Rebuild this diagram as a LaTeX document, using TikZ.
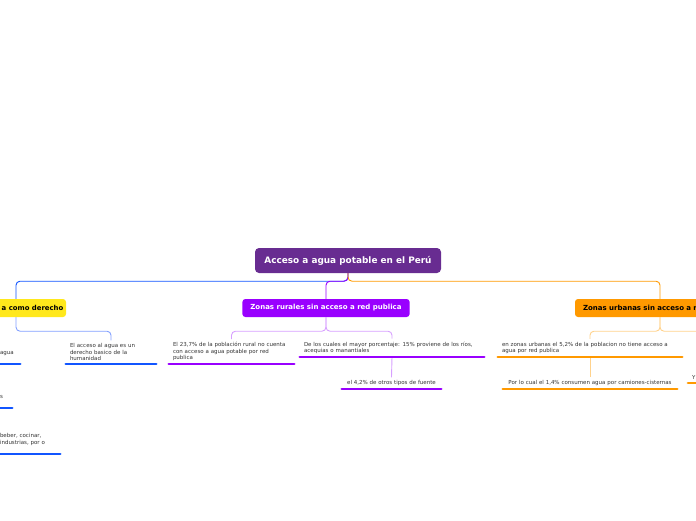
\documentclass[tikz,border=0pt]{standalone}
\usepackage{fontspec}
\setmainfont{DejaVu Sans}
\definecolor{rootc}{RGB}{104,44,145}
\definecolor{yel}{RGB}{255,232,28}
\definecolor{pur}{RGB}{153,0,255}
\definecolor{ora}{RGB}{255,153,0}
\definecolor{blu}{RGB}{17,85,255}
\definecolor{lblu}{RGB}{130,160,255}
\definecolor{lpur}{RGB}{215,160,255}
\definecolor{lora}{RGB}{255,210,140}
\definecolor{txt}{RGB}{51,51,51}
\tikzset{
  rootbox/.style={fill=rootc, text=white, font=\bfseries\fontsize{8.9}{10}\selectfont, rounded corners=4pt, minimum width=186pt, minimum height=25pt, inner sep=0pt},
  branchbox/.style={rounded corners=3pt, minimum height=18pt, inner xsep=8pt, inner ysep=0pt, font=\bfseries\fontsize{7}{8}\selectfont},
  leaf/.style={font=\fontsize{5.5}{6.5}\selectfont, text=txt, align=left, inner xsep=4pt, inner ysep=3pt, anchor=south},
  conn/.style={rounded corners=4pt, line width=0.9pt},
  subconn/.style={rounded corners=4pt, line width=0.9pt},
  uline/.style={line width=2.8pt, line cap=round}
}
\begin{document}
\begin{tikzpicture}[x=1pt,y=-1pt]
\useasboundingbox (0,0) rectangle (696,520);
\clip (0,0) rectangle (696,520);

\node[branchbox, fill=yel, minimum width=100pt] (agua) at (16,308) {};
\node[anchor=west, inner sep=0pt, text=black, font=\bfseries\fontsize{6.9}{8}\selectfont] (agualbl) at (1.5,308) {a como derecho};
\node[branchbox, fill=pur, text=white, minimum width=164pt] (rural) at (326,308) {Zonas rurales sin acceso a red publica};
\node[branchbox, fill=ora, text=black, text width=154pt, align=left] (urb) at (660,308) {Zonas urbanas sin acceso a r};

\node[rootbox] (root) at (348,260.5) {Acceso a agua potable en el Perú};

% blue leaves
\node[leaf, text width=82pt] (b2) at (111,364) {El acceso al agua es un\\derecho basico de la\\humanidad};
\node[leaf, text width=16pt] (b1) at (8,364) {agua\\\mbox{}};
\node[leaf, text width=8pt] (b3) at (4,408) {s\\\mbox{}};
\node[leaf, text width=56pt] (b4) at (28,454) {beber, cocinar,\\industrias, por o\\\mbox{}};

% rural leaves
\node[leaf, text width=117pt] (r1) at (231.5,364) {El 23,7\% de la población rural no cuenta\\con acceso a agua potable por red\\publica};
\node[leaf, text width=176pt] (r2) at (392,357) {De los cuales el mayor porcentaje: 15\% proviene de los ríos,\\acequias o manantiales};
\node[leaf, text width=91pt, align=center] (r3) at (391.5,389) {el 4,2\% de otros tipos de fuente};

% urban leaves
\node[leaf, text width=176pt] (u1) at (590,357) {en zonas urbanas el 5,2\% de la poblacion no tiene acceso a\\agua por red publica};
\node[leaf, text width=166pt, align=center] (u2) at (590,389) {Por lo cual el 1,4\% consumen agua por camiones-cisternas};
\node[leaf, anchor=south west, text width=40pt] (u3) at (688,383) {Y};
\coordinate (uoff) at (720,345);

% level 1 connectors
\draw[conn, blu] (root.south) -- ++(0,8) -| (agua.north);
\draw[conn, pur] (root.south) -- ++(0,8) -| (rural.north);
\draw[conn, ora] (root.south) -- ++(0,8) -| (urb.north);

% level 2 connectors
\draw[subconn, lblu] (agua.south) -- ++(0,14) -| (b2.north);
\draw[subconn, lpur] (rural.south) -- ++(0,14) -| (r1.north);
\draw[subconn, lpur] (rural.south) -- ++(0,14) -| (r2.north);
\draw[subconn, lpur] (r2.south) -- (r3.north);
\draw[subconn, lora] (urb.south) -- ++(0,14) -| (u1.north);
\draw[subconn, lora] (urb.south) -- ++(0,14) -| (uoff);
\draw[subconn, lora] (u1.south) -- (u2.north);

% underlines
\draw[uline, blu] (b1.south west) -- (b1.south east);
\draw[uline, blu] (b2.south west) -- (b2.south east);
\draw[uline, blu] (b3.south west) -- (b3.south east);
\draw[uline, blu] (b4.south west) -- (b4.south east);
\draw[uline, pur] (r1.south west) -- (r1.south east);
\draw[uline, pur] (r2.south west) -- (r2.south east);
\draw[uline, pur] (r3.south west) -- (r3.south east);
\draw[uline, ora] (u1.south west) -- (u1.south east);
\draw[uline, ora] (u2.south west) -- (u2.south east);
\draw[uline, ora] (u3.south west) -- (u3.south east);
\end{tikzpicture}
\end{document}
